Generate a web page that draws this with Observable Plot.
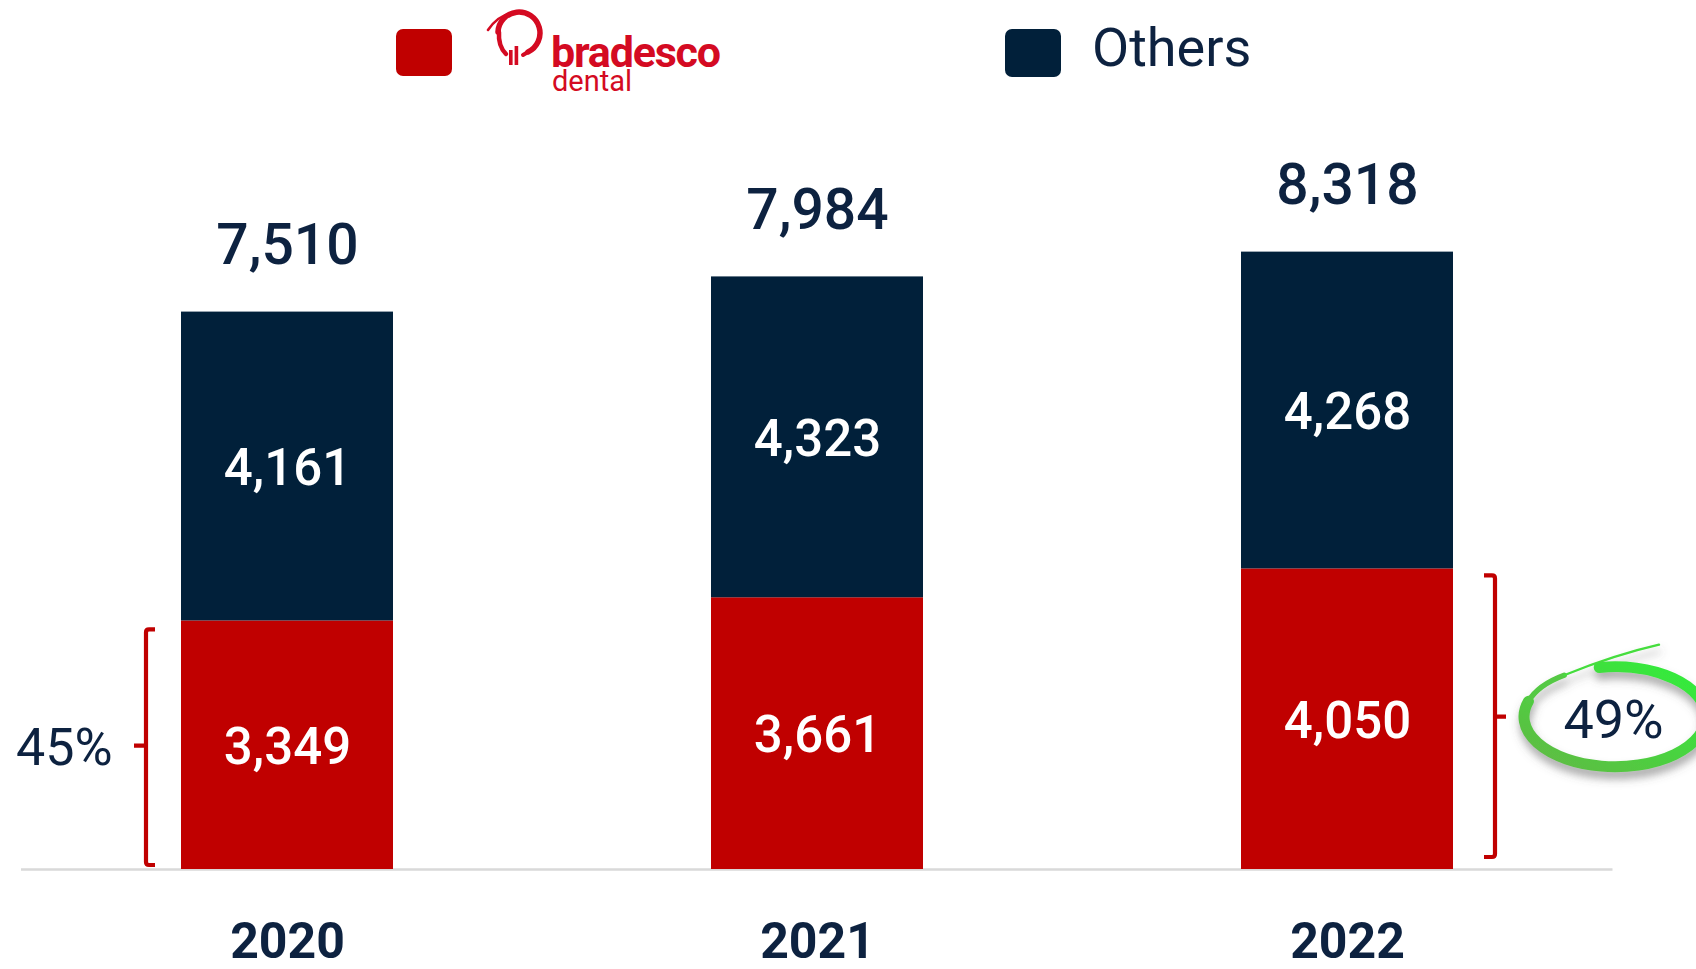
<!DOCTYPE html>
<html>
<head>
<meta charset="utf-8">
<script src="https://cdn.jsdelivr.net/npm/d3@7"></script>
<script src="https://cdn.jsdelivr.net/npm/@observablehq/plot@0.6"></script>
<style>
html, body { margin: 0; padding: 0; background: #fff; overflow: hidden; }
body { width: 1696px; height: 969px; font-family: Roboto, "Noto Sans", sans-serif; }
#legend { position: relative; width: 1696px; height: 100px; }
.sw { position: absolute; border-radius: 7px; }
.lt { position: absolute; line-height: 1; white-space: nowrap; }
#chart svg { display: block; }
</style>
</head>
<body>
<div id="legend">
  <div class="sw" id="sw0" style="left:396px;top:29px;width:56px;height:47px;"></div>
  <svg id="logo" style="position:absolute;left:484px;top:6px" width="64" height="62" viewBox="0 0 64 62">
    <g fill="none" stroke="#d40a22">
      <path d="M14,26 A21,21 0 1 1 44,46" stroke-width="5.5" stroke-linecap="round"/>
      <path d="M44,46 L39,49" stroke-width="4" stroke-linecap="round"/>
      <path d="M4,24 Q16,6 36,6" stroke-width="2.6" stroke-linecap="round"/>
      <path d="M15,26 Q14,40 22,48" stroke-width="4.5" stroke-linecap="round"/>
    </g>
    <rect x="25" y="44" width="3.6" height="15" fill="#d40a22"/>
    <rect x="30.6" y="40" width="3.6" height="19" fill="#d40a22"/>
  </svg>
  <div class="lt" id="brandTop" style="left:551px;top:35px;line-height:0.8;font-size:43px;font-weight:700;letter-spacing:-1.2px;color:#d40a22;">bradesco</div>
  <div class="lt" id="brandSub" style="left:552px;top:70px;line-height:0.8;font-size:29px;color:#d40a22;">dental</div>
  <div class="sw" id="sw1" style="left:1005px;top:29px;width:56px;height:48px;"></div>
  <div class="lt" id="othersLabel" style="left:1092px;top:21px;font-size:54px;color:#0d2240;">Others</div>
</div>
<div id="chart"></div>
<script>
// ---- data ----
const years = ["2020", "2021", "2022"];
const bradescoValues = [3349, 3661, 4050];
const othersValues = [4161, 4323, 4268];
const seriesNames = ["Bradesco Dental", "Others"];
const seriesColors = ["#c00000", "#01203a"];
const shareYears = ["2020", "2022"];
const shareSides = ["left", "right"];

const navyText = "#0d2240";
const fmt = d3.format(",");

document.getElementById("sw0").style.background = seriesColors[0];
document.getElementById("sw1").style.background = seriesColors[1];

const rows = [];
years.forEach((yr, i) => {
  rows.push({year: yr, series: seriesNames[0], value: bradescoValues[i]});
  rows.push({year: yr, series: seriesNames[1], value: othersValues[i]});
});
const totals = years.map((yr, i) => ({year: yr, total: bradescoValues[i] + othersValues[i]}));
const shares = shareYears.map((yr, k) => {
  const i = years.indexOf(yr);
  const b = bradescoValues[i], t = bradescoValues[i] + othersValues[i];
  return {year: yr, value: b, half: b / 2, side: shareSides[k], label: Math.round(b / t * 100) + "%"};
});

function annotations(index, scales) {
  const x = scales.x, y = scales.y;
  let bw = 0;
  if (typeof x.bandwidth === "function") bw = x.bandwidth();
  else if (scales.scales && scales.scales.x) bw = scales.scales.x.bandwidth;
  const g = d3.create("svg:g");
  const defs = g.append("defs");
  const grad = defs.append("linearGradient").attr("id", "greenGrad")
    .attr("x1", "100%").attr("y1", "0%").attr("x2", "0%").attr("y2", "100%");
  grad.append("stop").attr("offset", "0%").attr("stop-color", "#2ff03a");
  grad.append("stop").attr("offset", "100%").attr("stop-color", "#62b845");
  const filt = defs.append("filter").attr("id", "ellShadow")
    .attr("x", "-20%").attr("y", "-30%").attr("width", "140%").attr("height", "170%");
  filt.append("feDropShadow").attr("dx", 1).attr("dy", 7).attr("stdDeviation", 4.5)
    .attr("flood-color", "#555").attr("flood-opacity", 0.5);

  for (const s of shares) {
    const x0 = x(s.year);
    const top0 = y(s.value), base = y(0), mid = y(s.half);
    if (s.side === "left") {
      const xv = x0 - 35, top = top0 + 9, bot = base - 4;
      g.append("path")
        .attr("d", `M${xv + 9},${top} L${xv + 3},${top} Q${xv},${top} ${xv},${top + 3} L${xv},${bot - 3} Q${xv},${bot} ${xv + 3},${bot} L${xv + 9},${bot} M${xv},${mid + 1} L${xv - 12},${mid + 1}`)
        .attr("fill", "none").attr("stroke", seriesColors[0]).attr("stroke-width", 4.2);
    } else {
      const xv = x0 + bw + 42, top = top0 + 7, bot = base - 12;
      g.append("path")
        .attr("d", `M${xv - 11},${top} L${xv - 3},${top} Q${xv},${top} ${xv},${top + 3} L${xv},${bot - 3} Q${xv},${bot} ${xv - 3},${bot} L${xv - 11},${bot} M${xv},${mid - 2} L${xv + 11},${mid - 2}`)
        .attr("fill", "none").attr("stroke", seriesColors[0]).attr("stroke-width", 4.2);
      // hand-drawn green ellipse around the share label
      const cx = x0 + bw / 2 + 268, cy = mid - 2, rx = 91, ry = 50;
      const P = a => [cx + rx * Math.cos(a * Math.PI / 180), cy + ry * Math.sin(a * Math.PI / 180)];
      const [sx, sy] = P(-100), [ex, ey] = P(198), [tx, ty] = P(236);
      const eg = g.append("g").attr("filter", "url(#ellShadow)");
      eg.append("path")
        .attr("d", `M${sx},${sy} A${rx},${ry} 0 1 1 ${ex},${ey}`)
        .attr("fill", "none").attr("stroke", "url(#greenGrad)").attr("stroke-width", 11).attr("stroke-linecap", "round");
      eg.append("path")
        .attr("d", `M${ex},${ey} A${rx},${ry} 0 0 1 ${tx},${ty}`)
        .attr("fill", "none").attr("stroke", "#55c944").attr("stroke-width", 5.5).attr("stroke-linecap", "round");
      eg.append("path")
        .attr("d", `M${tx},${ty} Q${cx},${cy - 62} ${cx + 44},${cy - 72}`)
        .attr("fill", "none").attr("stroke", "#44dd3c").attr("stroke-width", 2.4).attr("stroke-linecap", "round");
    }
  }
  return g.node();
}

const plot = Plot.plot({
  width: 1696,
  height: 869,
  marginTop: 101,
  marginBottom: 100,
  marginLeft: 21,
  marginRight: 83.5,
  style: {fontFamily: "Roboto, 'Noto Sans', sans-serif", background: "white"},
  x: {domain: years, paddingInner: 0.6, paddingOuter: 0.3, label: null},
  y: {domain: [0, 9000], axis: null},
  color: {domain: seriesNames, range: seriesColors},
  marks: [
    Plot.ruleY([0], {stroke: "#d9d9d9", strokeWidth: 2.5}),
    Plot.barY(rows, {x: "year", y: "value", fill: "series"}),
    Plot.text(rows, Plot.stackY({x: "year", y: "value", z: "series", text: d => fmt(d.value), fill: "white", fontSize: 51, fontWeight: 500, dy: 2})),
    Plot.text(totals, {x: "year", y: "total", text: d => fmt(d.total), fill: navyText, fontSize: 57, fontWeight: 500, dy: -66}),
    Plot.text(shares.filter(d => d.side === "left"), {x: "year", y: "half", text: "label", fill: navyText, fontSize: 52, fontWeight: 400, textAnchor: "end", dx: -175, dy: 3}),
    Plot.text(shares.filter(d => d.side === "right"), {x: "year", y: "half", text: "label", fill: navyText, fontSize: 54, fontWeight: 400, textAnchor: "middle", dx: 266, dy: 2}),
    annotations,
    Plot.axisX({tickSize: 0, tickPadding: 53, fontSize: 50, fontWeight: 700, color: navyText, label: null})
  ]
});
document.getElementById("chart").appendChild(plot);
</script>
</body>
</html>
